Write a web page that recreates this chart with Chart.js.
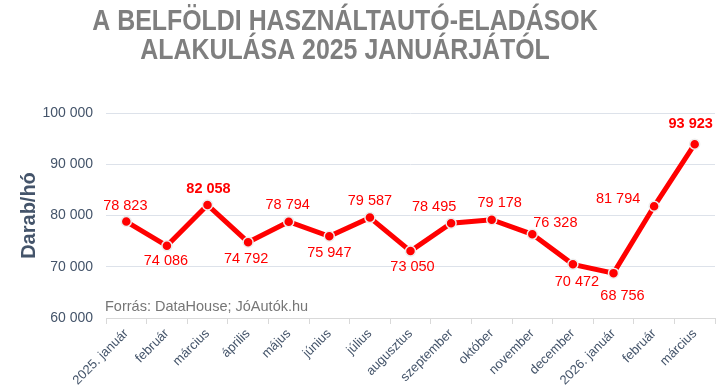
<!DOCTYPE html>
<html>
<head>
<meta charset="utf-8">
<script src="https://cdn.jsdelivr.net/npm/chart.js@4"></script>
<style>
  html, body { margin: 0; padding: 0; background: #fff; }
  #wrap { width: 726px; height: 392px; }
</style>
</head>
<body>
<div id="wrap"><canvas id="chart" width="726" height="392"></canvas></div>
<script>
// Data
var titleLines = ['A BELFÖLDI HASZNÁLTAUTÓ-ELADÁSOK', 'ALAKULÁSA 2025 JANUÁRJÁTÓL'];
var months = ['2025. január', 'február', 'március', 'április', 'május', 'június', 'július',
              'augusztus', 'szeptember', 'október', 'november', 'december',
              '2026. január', 'február', 'március'];
var sales = [78823, 74086, 82058, 74792, 78794, 75947, 79587, 73050, 78495, 79178, 76328, 70472, 68756, 81794, 93923];
var yTicks = [60000, 70000, 80000, 90000, 100000];

// "78 823" style thousand separator
function fmt(v) {
    return String(v).replace(/\B(?=(\d{3})+(?!\d))/g, ' ');
}

// Label placement relative to each point (centre offsets), bold ones
var labelShift = [[-1, -16], [-1, 15], [1, -16], [-2, 17], [-1, -17], [0, 17], [0, -17], [2, 16],
                  [-17, -16], [8, -17], [23, -11], [4, 18], [9, 23], [-36, -7], [-4, -20]];
var boldLabels = [2, 14];

// Condensed bold title (drawn squeezed, the narrow face is not installed)
var squeezedTitle = {
    id: 'squeezedTitle',
    afterDraw: function(chart) {
        var ctx = chart.ctx;
        ctx.save();
        ctx.fillStyle = '#7f7f7f';
        ctx.font = 'bold 30px "Liberation Sans", Arial, sans-serif';
        ctx.textAlign = 'center';
        ctx.textBaseline = 'alphabetic';
        ctx.translate(345, 0);
        ctx.scale(0.83, 1);
        ctx.fillText(titleLines[0], 0, 30);
        ctx.fillText(titleLines[1], 0, 59);
        ctx.restore();
    }
};

var valueLabels = {
    id: 'valueLabels',
    afterDatasetsDraw: function(chart) {
        var ctx = chart.ctx;
        var meta = chart.getDatasetMeta(0);
        ctx.save();
        ctx.fillStyle = '#ff0000';
        ctx.textBaseline = 'middle';
        ctx.textAlign = 'center';
        meta.data.forEach(function(pt, i) {
            var bold = boldLabels.indexOf(i) >= 0;
            ctx.font = (bold ? 'bold ' : '') + '14.5px "Liberation Sans", Arial, sans-serif';
            ctx.fillText(fmt(sales[i]), pt.x + labelShift[i][0], pt.y + labelShift[i][1]);
        });
        // source note inside the plot
        ctx.font = '14.5px "Liberation Sans", Arial, sans-serif';
        ctx.fillStyle = '#767676';
        ctx.textAlign = 'left';
        ctx.fillText('Forrás: DataHouse; JóAutók.hu', chart.chartArea.left - 1, chart.chartArea.bottom - 11);
        ctx.restore();
    }
};

var ctx = document.getElementById('chart').getContext('2d');
var chart = new Chart(ctx, {
    type: 'line',
    data: {
        labels: months,
        datasets: [{
            data: sales,
            borderColor: '#ff0000',
            borderWidth: 5,
            backgroundColor: '#ff0000',
            pointBackgroundColor: '#ff0000',
            pointBorderColor: '#eeeeee',
            pointBorderWidth: 1.5,
            pointRadius: 5,
            tension: 0,
            fill: false
        }]
    },
    options: {
        responsive: false,
        animation: false,
        layout: { padding: { left: 17, right: 11, top: 113, bottom: 0 } },
        plugins: {
            legend: { display: false },
            tooltip: { enabled: false },
            title: { display: false }
        },
        scales: {
            x: {
                offset: true,
                grid: { offset: true, drawOnChartArea: false, color: '#d9d9d9', tickLength: 6 },
                border: { color: '#d9d9d9' },
                ticks: {
                    autoSkip: false,
                    minRotation: 45,
                    maxRotation: 45,
                    color: '#44546a',
                    padding: 2,
                    font: { family: '"Liberation Sans", Arial, sans-serif', size: 13 }
                },
                afterFit: function(scale) { scale.height = 74; }
            },
            y: {
                min: 60000,
                max: 100000,
                afterBuildTicks: function(scale) {
                    scale.ticks = yTicks.map(function(v) { return { value: v }; });
                },
                grid: { color: '#dde2ea', drawTicks: false },
                border: { display: false },
                ticks: {
                    color: '#44546a',
                    padding: 13,
                    font: { family: '"Liberation Sans", Arial, sans-serif', size: 14 },
                    callback: function(v) { return fmt(v); }
                },
                title: {
                    display: true,
                    text: 'Darab/hó',
                    color: '#44546a',
                    font: { family: '"Liberation Sans", Arial, sans-serif', size: 20, weight: 'bold' },
                    padding: { top: 0, bottom: 0 }
                },
                afterFit: function(scale) { scale.width = 89; }
            }
        }
    },
    plugins: [valueLabels, squeezedTitle]
});
</script>
</body>
</html>
